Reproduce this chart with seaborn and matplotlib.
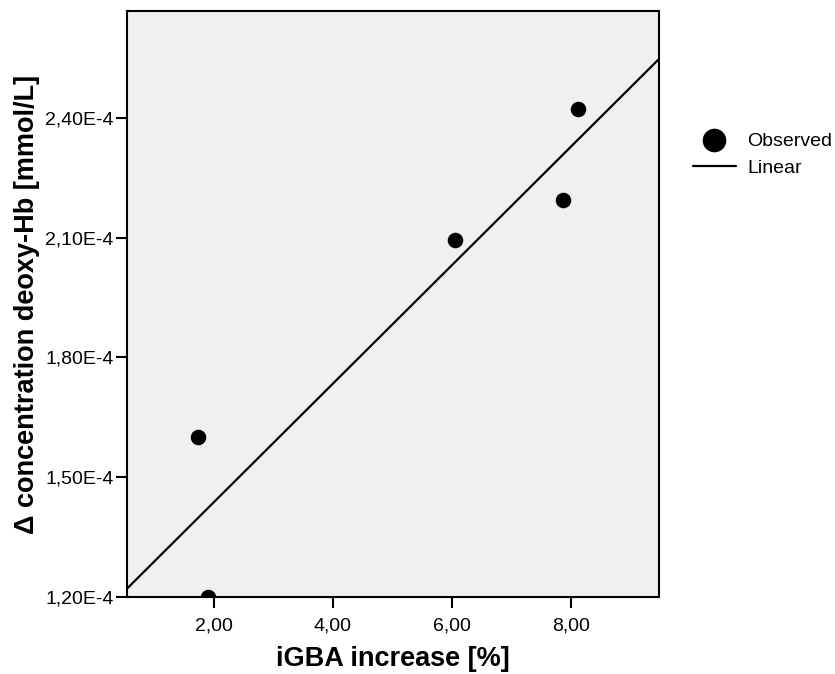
import seaborn as sns
import matplotlib
matplotlib.use("Agg")
import matplotlib.pyplot as plt
from matplotlib.ticker import FuncFormatter, FixedLocator
from matplotlib.lines import Line2D
import pandas as pd

# values
igba_increase = [1.73, 1.90, 6.05, 7.87, 8.13]
deoxy_hb = [1.60e-4, 1.20e-4, 2.095e-4, 2.195e-4, 2.4225e-4]
x_ticks = [2, 4, 6, 8]
y_ticks = [1.2e-4, 1.5e-4, 1.8e-4, 2.1e-4, 2.4e-4]

sns.set_style("ticks")
plt.rcParams['font.family'] = ['Liberation Sans', 'DejaVu Sans']
plt.rcParams['text.color'] = 'black'
plt.rcParams['axes.labelcolor'] = 'black'
plt.rcParams['xtick.color'] = 'black'
plt.rcParams['ytick.color'] = 'black'

df = pd.DataFrame({"x": igba_increase, "y": deoxy_hb})

fig = plt.figure(figsize=(8.35, 6.74), dpi=100)
ax = fig.add_axes([0.152, 0.1142, 0.637, 0.8695])
ax.set_facecolor("#f0f0f0")
ax.set_xlim(0.54, 9.48)
ax.set_ylim(1.2e-4, 2.6675e-4)

sns.regplot(data=df, x="x", y="y", ax=ax, ci=None, truncate=False,
            scatter_kws={"s": 125, "color": "black", "alpha": 1, "linewidths": 0, "zorder": 3},
            line_kws={"color": "black", "lw": 1.6})
ax.set_xlim(0.54, 9.48)
ax.set_ylim(1.2e-4, 2.6675e-4)

ax.xaxis.set_major_locator(FixedLocator(x_ticks))
ax.yaxis.set_major_locator(FixedLocator(y_ticks))
ax.xaxis.set_major_formatter(FuncFormatter(lambda v, p: f"{v:.2f}".replace('.', ',')))
ax.yaxis.set_major_formatter(FuncFormatter(lambda v, p: f"{v*1e4:.2f}".replace('.', ',') + "E-4"))
ax.tick_params(axis="both", direction="out", length=8, width=1.5, labelsize=14, pad=1.5)
ax.tick_params(axis="x", pad=7)

for s in ax.spines.values():
    s.set_visible(True)
    s.set_linewidth(1.5)
    s.set_color("black")

ax.set_xlabel("iGBA increase [%]", fontsize=19.5, fontweight="bold", labelpad=8)
ax.set_ylabel("Δ concentration deoxy-Hb [mmol/L]", fontsize=19.5, fontweight="bold", labelpad=4)

handles = [Line2D([], [], marker="o", color="black", linestyle="", markersize=16),
           Line2D([], [], color="black", lw=1.6)]
fig.legend(handles, ["Observed", "Linear"], loc="upper left", bbox_to_anchor=(0.830, 0.803),
           frameon=False, fontsize=14, handlelength=2.2, handletextpad=0.6,
           labelspacing=0.45, borderpad=0, borderaxespad=0)

fig.savefig("out.png", dpi=100)
